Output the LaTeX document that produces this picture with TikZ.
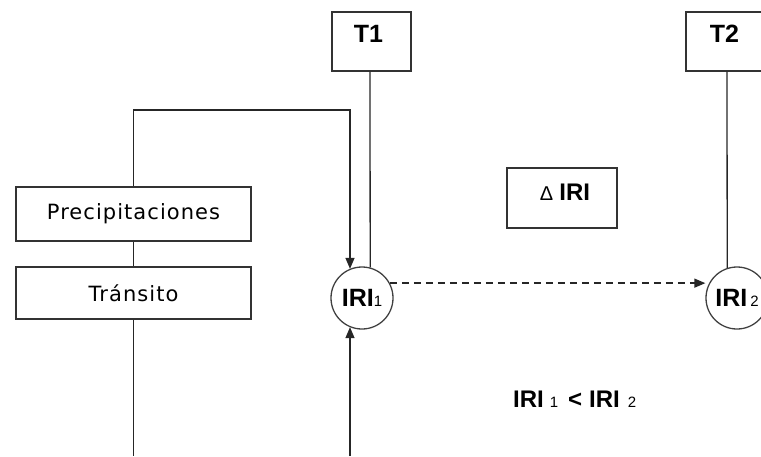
\documentclass[tikz,border=0pt]{standalone}
\usepackage{fontspec}
\setmainfont{Liberation Sans}
\newfontfamily\dvfont[LetterSpace=5]{DejaVu Sans}
\usetikzlibrary{arrows.meta}
\tikzset{
  ln/.style={line width=1.3pt, draw=black!85},
  arr/.style={ln, -{Triangle[length=11pt,width=9pt]}},
  boxnode/.style={draw=black!80, line width=1.4pt, rectangle, inner sep=0pt},
  circnode/.style={draw=black!75, line width=1.3pt, circle, minimum size=62pt, inner sep=0pt},
  boldtxt/.style={font=\fontsize{25}{27}\selectfont\bfseries, inner sep=0pt},
  regtxt/.style={font=\fontsize{21}{23}\selectfont\dvfont, inner sep=0pt},
}
\newcommand{\subnum}[1]{{\fontsize{15}{15}\selectfont\mdseries #1}}
\begin{document}
\begin{tikzpicture}[x=1pt,y=-1pt]
\useasboundingbox (0,0) rectangle (761,456);
% T boxes
\node[boxnode, minimum width=79pt, minimum height=59pt] (t1) at (371.5,41.5) {};
\node[boldtxt] (t1l) at (368.5,34) {T1};
\node[boxnode, minimum width=79pt, minimum height=59pt] (t2) at (725.5,41.5) {};
\node[boldtxt] (t2l) at (724.5,34) {T2};
% left boxes
\node[boxnode, minimum width=235pt, minimum height=54pt, regtxt] (prec) at (133.5,214) {Precipitaciones};
\node[boxnode, minimum width=235pt, minimum height=52pt, regtxt] (trans) at (133.5,293) {Tránsito};
% delta box
\node[boxnode, minimum width=110pt, minimum height=60pt] (dbox) at (562,198) {};
\node[inner sep=0pt] (dl) at (565,192) {{\fontsize{20}{22}\selectfont Δ}\hspace{6pt}{\fontsize{24}{26}\selectfont\bfseries IRI}};
% circles
\node[circnode, boldtxt] (iri1) at (362,298) {IRI\subnum{1}};
\node[circnode, boldtxt] (iri2) at (737,298) {IRI\hspace{3pt}\subnum{2}\hspace{12pt}};
% inequality
\node[boldtxt, font=\fontsize{24}{26}\selectfont\bfseries, anchor=base west] (ineq) at (513,407) {IRI\hspace{6pt}\subnum{1}\hspace{10pt}<\hspace{7pt}IRI\hspace{8pt}\subnum{2}};
% connectors
\coordinate (tc) at (350,110);
\coordinate (bc) at (350,456);
\coordinate (bl) at (133,456);
\draw[ln] (prec.south) -- (trans.north);
\draw[arr] (prec.north) |- (tc) -- (tc |- iri1.113);
\draw[ln] (t1.south -| 370,0) -- (iri1.75);
\draw[ln] (t2.south -| 727,0) -- (iri2.108);
\draw[ln] (trans.south) -- (trans.south |- bl);
\draw[arr] (bc) -- (bc |- iri1.247);
\draw[arr, dash pattern=on 7pt off 5pt] (iri1.28) -- (iri1.28 -| iri2.west);
\end{tikzpicture}
\end{document}
